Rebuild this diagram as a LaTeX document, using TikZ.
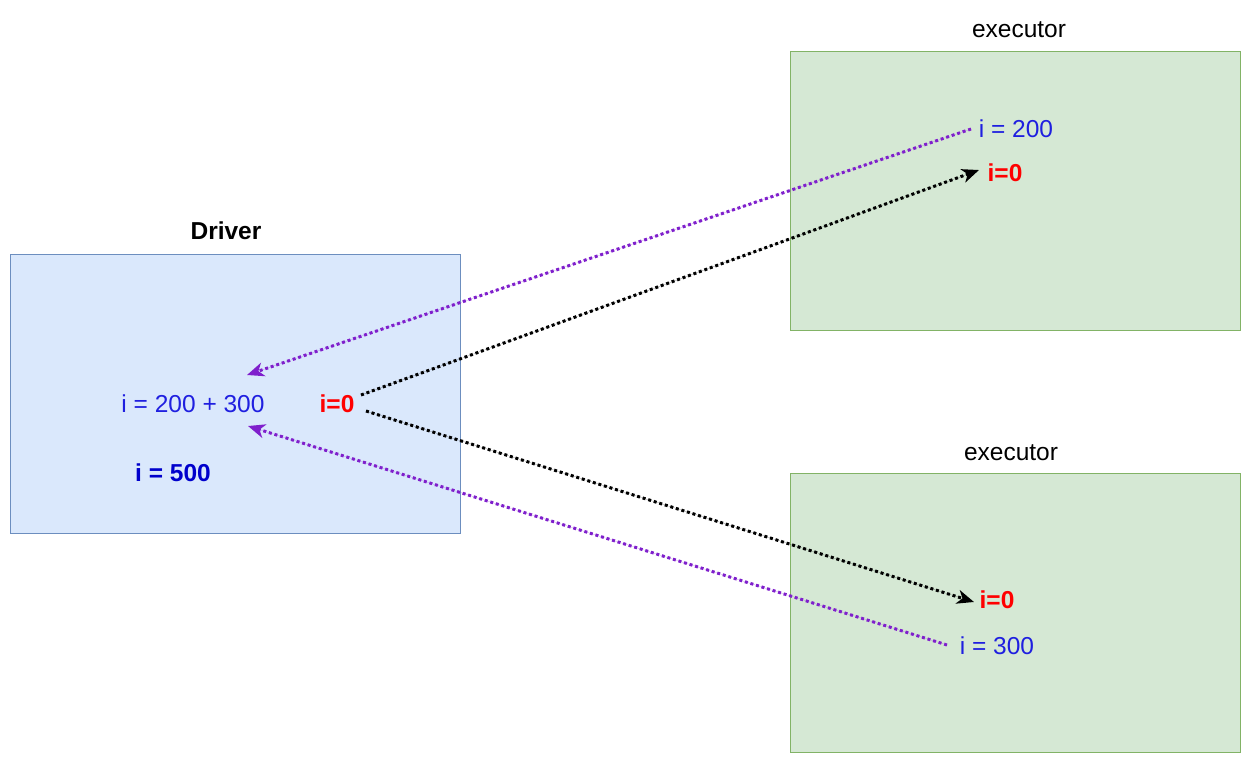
\documentclass[tikz,border=0pt]{standalone}
\usepackage{fontspec}
\setmainfont{Liberation Sans}
\usetikzlibrary{arrows.meta}
\definecolor{drvfill}{HTML}{DAE8FC}
\definecolor{drvline}{HTML}{6C8EBF}
\definecolor{exfill}{HTML}{D5E8D4}
\definecolor{exline}{HTML}{82B366}
\definecolor{txtblue}{HTML}{1F1FE0}
\definecolor{boldblue}{HTML}{0000CC}
\definecolor{txtred}{HTML}{FF0000}
\definecolor{arrpurple}{HTML}{7F1FCC}
\tikzset{
  box/.style={draw, line width=0.8pt, minimum width=450pt, minimum height=279pt, inner sep=0pt},
  drv/.style={box, fill=drvfill, draw=drvline},
  exe/.style={box, fill=exfill, draw=exline},
  lbl/.style={font=\fontsize{24.5}{28}\selectfont, inner sep=0pt},
  val/.style={font=\fontsize{24.5}{28}\selectfont, text=txtblue, inner sep=0pt},
  zero/.style={font=\fontsize{24.5}{28}\selectfont\bfseries, text=txtred, inner sep=0pt},
  dotarrow/.style={line width=3pt, dash pattern=on 3pt off 2.8pt, -{Stealth[length=17pt,width=14pt,inset=5pt]}},
}
\begin{document}
\begin{tikzpicture}[x=1pt,y=-1pt]
\useasboundingbox (0,0) rectangle (1251,764);
\fill[white] (0,0) rectangle (1251,764);
\node[drv] (driver) at (235,393.5) {};
\node[exe] (ex1) at (1015,190.5) {};
\node[exe] (ex2) at (1015,612.5) {};
\node[lbl, font=\fontsize{24.5}{28}\selectfont\bfseries] (drvlbl) at (226,231) {Driver};
\node[lbl] (ex1lbl) at (1019,30) {executor};
\node[lbl] (ex2lbl) at (1011,453) {executor};
\node[val] (sum) at (193,404) {i = 200 + 300};
\node[val, font=\fontsize{24.5}{28}\selectfont\bfseries, text=boldblue] (res) at (173,473) {i = 500};
\node[zero] (dz) at (337,404) {i=0};
\node[val] (v200) at (1016,129) {i = 200};
\node[zero] (z1) at (1005,173) {i=0};
\node[zero] (z2) at (997,600) {i=0};
\node[val] (v300) at (997,646) {i = 300};
\coordinate (p1s) at (971,129);
\coordinate (p1e) at (247,375);
\coordinate (b1s) at (361,395);
\coordinate (b1e) at (979,170);
\coordinate (b2s) at (366,411);
\coordinate (b2e) at (974,602);
\coordinate (p2s) at (947,645);
\coordinate (p2e) at (248,426);
\draw[dotarrow, draw=arrpurple, fill=arrpurple] (p1s) -- (p1e);
\draw[dotarrow, draw=black, fill=black] (b1s) -- (b1e);
\draw[dotarrow, draw=black, fill=black] (b2s) -- (b2e);
\draw[dotarrow, draw=arrpurple, fill=arrpurple] (p2s) -- (p2e);
\end{tikzpicture}
\end{document}
